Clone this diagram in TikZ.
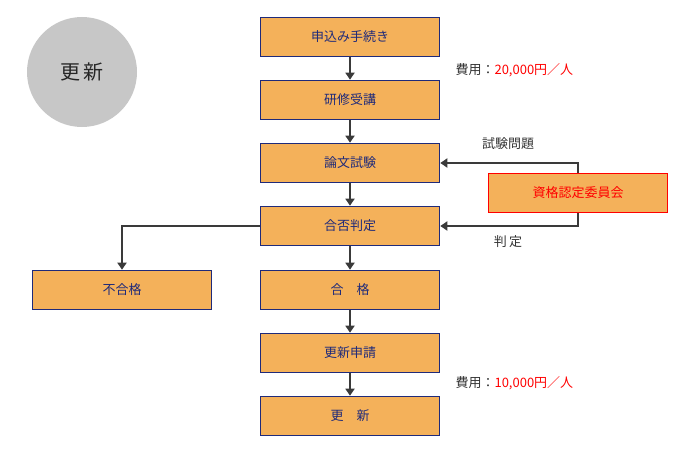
\documentclass[tikz,border=0pt]{standalone}
\usepackage{fontspec}
\setmainfont{Noto Sans CJK JP}
\usetikzlibrary{arrows.meta}
\definecolor{boxfill}{HTML}{F4B15A}
\definecolor{navy}{HTML}{1F2A7A}
\definecolor{arr}{HTML}{3A3A3A}
\begin{document}
\begin{tikzpicture}[x=1pt,y=-1pt,
  stepbox/.style={draw=navy,line width=1.6pt,fill=boxfill,minimum width=179pt,minimum height=39pt,inner sep=0pt,text=navy,font=\fontsize{13}{15}\selectfont},
  redbox/.style={stepbox,draw=red,text=red},
  conn/.style={draw=arr,line width=2.4pt,-{Triangle[length=7pt,width=9pt]}},
  lbl/.style={font=\fontsize{13}{15}\selectfont,text=black!80}]
\useasboundingbox (0,0) rectangle (700,460);
\node[circle,fill=black!22,minimum size=110pt,font=\fontsize{20}{24}\selectfont,text=black!85] (c) at (82,72) {更\,新};
\node[stepbox] (b1) at (350,37) {申込み手続き};
\node[stepbox] (b2) at (350,100) {研修受講};
\node[stepbox] (b3) at (350,163) {論文試験};
\node[stepbox] (b4) at (350,226) {合否判定};
\node[stepbox] (b5) at (350,290) {合\quad 格};
\node[stepbox] (b6) at (350,353) {更新申請};
\node[stepbox] (b7) at (350,416) {更\quad 新};
\node[stepbox] (ng) at (122,290) {不合格};
\node[redbox] (r) at (578,193) {資格認定委員会};
\draw[conn] (b1) -- (b2);
\draw[conn] (b2) -- (b3);
\draw[conn] (b3) -- (b4);
\draw[conn] (b4) -- (b5);
\draw[conn] (b5) -- (b6);
\draw[conn] (b6) -- (b7);
\draw[conn] (b4.west) -| (ng.north);
\draw[conn] (r.north) |- (b3.east);
\draw[conn] (r.south) |- (b4.east);
\node[lbl,anchor=west] (f1) at (452,70) {費用：\textcolor{red}{20,000円／人}};
\node[lbl,anchor=west] (f2) at (452,383) {費用：\textcolor{red}{10,000円／人}};
\node[lbl] (l1) at (508,144) {試験問題};
\node[lbl] (l2) at (508,242) {判\,定};
\end{tikzpicture}
\end{document}
